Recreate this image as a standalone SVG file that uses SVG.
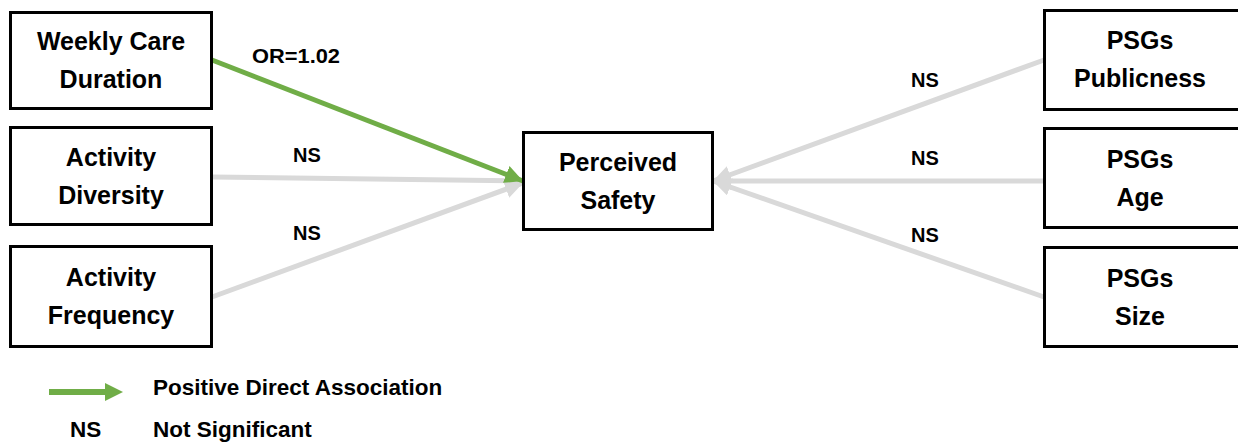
<svg xmlns="http://www.w3.org/2000/svg" width="1238" height="443" viewBox="0 0 1238 443">
<style>
  .box{fill:#fff;stroke:#000;stroke-width:3}
  .nt{font-family:"Liberation Sans",Arial,sans-serif;font-weight:bold;font-size:25px;fill:#000;text-anchor:middle}
  .lb{font-family:"Liberation Sans",Arial,sans-serif;font-weight:bold;font-size:20px;fill:#000}
  .lg{font-family:"Liberation Sans",Arial,sans-serif;font-weight:bold;font-size:22.5px;fill:#000}
  .g{stroke:#70ad47;stroke-width:5;fill:none}
  .ns{stroke:#d9d9d9;stroke-width:5;fill:none}
</style>
<defs>
  <marker id="ag" viewBox="0 0 18 18" refX="18" refY="9" markerWidth="18" markerHeight="18" markerUnits="userSpaceOnUse" orient="auto">
    <path d="M0,0 L18,9 L0,18 Z" fill="#70ad47"/>
  </marker>
  <marker id="an" viewBox="0 0 18 18" refX="18" refY="9" markerWidth="18" markerHeight="18" markerUnits="userSpaceOnUse" orient="auto">
    <path d="M0,0 L18,9 L0,18 Z" fill="#d9d9d9"/>
  </marker>
</defs>
<rect width="1238" height="443" fill="#fff"/>
<g id="connectors">
  <line class="ns" x1="212" y1="177" x2="523" y2="181" marker-end="url(#an)"/>
  <line class="ns" x1="212" y1="297" x2="523" y2="183" marker-end="url(#an)"/>
  <line class="ns" x1="1044" y1="60" x2="713" y2="181" marker-end="url(#an)"/>
  <line class="ns" x1="1044" y1="181" x2="713" y2="181" marker-end="url(#an)"/>
  <line class="ns" x1="1044" y1="297" x2="713" y2="181" marker-end="url(#an)"/>
  <line class="g" x1="212" y1="60" x2="523" y2="181" marker-end="url(#ag)"/>
  <text class="lb" x="252" y="63" textLength="88" lengthAdjust="spacingAndGlyphs">OR=1.02</text>
  <text class="lb" x="293" y="162">NS</text>
  <text class="lb" x="293" y="240">NS</text>
  <text class="lb" x="911" y="87">NS</text>
  <text class="lb" x="911" y="165">NS</text>
  <text class="lb" x="911" y="242">NS</text>
</g>
<g id="weekly">
  <rect class="box" x="10.5" y="12.5" width="201" height="96"/>
  <text class="nt" x="111" y="50">Weekly Care</text>
  <text class="nt" x="111" y="88">Duration</text>
</g>
<g id="diversity">
  <rect class="box" x="10.5" y="127.5" width="201" height="97"/>
  <text class="nt" x="111" y="166">Activity</text>
  <text class="nt" x="111" y="204">Diversity</text>
</g>
<g id="frequency">
  <rect class="box" x="10.5" y="246.5" width="201" height="100"/>
  <text class="nt" x="111" y="286">Activity</text>
  <text class="nt" x="111" y="324">Frequency</text>
</g>
<g id="safety">
  <rect class="box" x="523.5" y="132.5" width="189" height="97"/>
  <text class="nt" x="618" y="171">Perceived</text>
  <text class="nt" x="618" y="209">Safety</text>
</g>
<g id="publicness">
  <rect class="box" x="1044.5" y="10.5" width="198" height="99"/>
  <text class="nt" x="1140" y="49">PSGs</text>
  <text class="nt" x="1140" y="87">Publicness</text>
</g>
<g id="age">
  <rect class="box" x="1044.5" y="128.5" width="198" height="99"/>
  <text class="nt" x="1140" y="168">PSGs</text>
  <text class="nt" x="1140" y="206">Age</text>
</g>
<g id="size">
  <rect class="box" x="1044.5" y="247.5" width="198" height="99"/>
  <text class="nt" x="1140" y="287">PSGs</text>
  <text class="nt" x="1140" y="325">Size</text>
</g>
<g id="legend">
  <line x1="49" y1="392" x2="106" y2="392" stroke="#70ad47" stroke-width="6"/>
  <path d="M105,383 L123,392 L105,401 Z" fill="#70ad47"/>
  <text class="lg" x="153" y="395">Positive Direct Association</text>
  <text class="lg" x="70" y="437">NS</text>
  <text class="lg" x="153" y="437">Not Significant</text>
</g>
</svg>
